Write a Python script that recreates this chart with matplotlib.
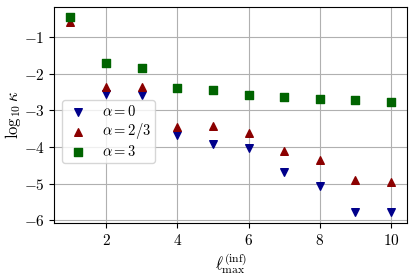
import numpy as np
import matplotlib
matplotlib.use("Agg")
import matplotlib.pyplot as plt

plt.rcParams['mathtext.fontset'] = 'cm'
plt.rcParams['font.family'] = 'serif'
plt.rcParams['font.serif'] = ['cmr10', 'DejaVu Serif']
plt.rcParams['axes.formatter.use_mathtext'] = True
plt.rcParams['axes.unicode_minus'] = True

# valores
lmax = [1, 2, 3, 4, 5, 6, 7, 8, 9, 10]
kappa_a0 = [-0.55, -2.55, -2.58, -3.67, -3.92, -4.03, -4.69, -5.05, -5.78, -5.78]
kappa_a23 = [-0.58, -2.37, -2.36, -3.44, -3.42, -3.61, -4.12, -4.34, -4.90, -4.96]
kappa_a3 = [-0.45, -1.70, -1.84, -2.39, -2.44, -2.58, -2.64, -2.70, -2.73, -2.77]
labels = [r'$\alpha = 0$', r'$\alpha = 2/3$', r'$\alpha = 3$']

fig = plt.figure(figsize=(4.15, 2.75), dpi=100)
ax = fig.add_axes([0.131, 0.189, 0.850, 0.786])

ax.scatter(lmax, kappa_a0, marker='v', color='darkblue', s=30, label=labels[0], zorder=3)
ax.scatter(lmax, kappa_a23, marker='^', color='darkred', s=30, label=labels[1], zorder=3)
ax.scatter(lmax, kappa_a3, marker='s', color='darkgreen', s=28, label=labels[2], zorder=3)

ax.set_xlim(0.55, 10.45)
ax.set_ylim(-6.07, -0.18)
ax.set_xticks([2, 4, 6, 8, 10])
ax.set_yticks([-6, -5, -4, -3, -2, -1])
ax.tick_params(labelsize=11)
ax.set_xlabel(r'$\ell_{\mathrm{max}}^{(\mathrm{inf})}$', fontsize=12, labelpad=2)
ax.set_ylabel(r'$\log_{10}\kappa$', fontsize=12)
ax.yaxis.set_label_coords(-0.088, 0.5)
ax.grid(True, color='#b0b0b0', linewidth=0.8)
ax.set_axisbelow(True)

ax.legend(loc='lower left', bbox_to_anchor=(0.022, 0.278), borderaxespad=0,
          fontsize=10.5, handletextpad=0.8, handlelength=1.6, labelspacing=0.15,
          borderpad=0.3)

fig.savefig('out.png', dpi=100)
